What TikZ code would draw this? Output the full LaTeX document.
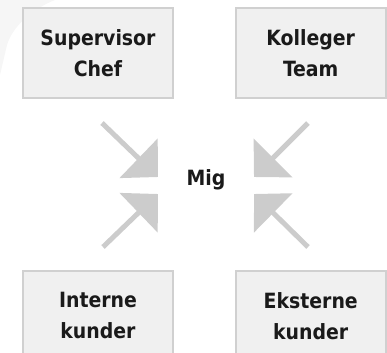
\documentclass[tikz,border=0pt]{standalone}
\usepackage{fontspec}
\setmainfont{DejaVu Sans Condensed}
\usepackage{tikz}
\usetikzlibrary{positioning, arrows.meta}
\definecolor{boxfill}{HTML}{F0F0F0}
\definecolor{boxline}{HTML}{D0D0D0}
\definecolor{arrowgray}{HTML}{CCCCCC}
\definecolor{textdark}{HTML}{1A1A1A}
\definecolor{swoosh}{HTML}{F6F6F6}
\tikzset{
    rolebox/.style={draw=boxline, fill=boxfill, line width=1.7bp,
      minimum width=150bp, minimum height=90bp, inner sep=0pt,
      align=center, text=textdark,
      font=\bfseries\fontsize{21bp}{31bp}\selectfont},
    inarrow/.style={draw=arrowgray, line width=5bp,
      -{Triangle[length=27bp, width=54bp]}},
}

\begin{document}
\begin{tikzpicture}[x=1bp, y=-1bp]
    \useasboundingbox (0,0) rectangle (387,353);
    \fill[swoosh] (0,0) -- (55,0) .. controls (30,10) and (12,28) .. (7,45) -- (0,75) -- cycle;

    \node[rolebox] (sup) at (98,53) {Supervisor\\Chef};
    \node[rolebox, right=61bp of sup] (kol) {Kolleger\\Team};
    \node[rolebox, below=171bp of sup] (int) {Interne\\kunder};
    \node[rolebox, below=171bp of kol] (eks) {Eksterne\\kunder};

    \node[text=textdark, font=\bfseries\fontsize{21bp}{31bp}\selectfont] (mig) at (206,180) {Mig};

    % arrows towards the middle
    \coordinate (t1) at (102,123);
    \coordinate (h1) at (158,177);
    \coordinate (t2) at (308,123);
    \coordinate (h2) at (254,177);
    \coordinate (t3) at (103,247);
    \coordinate (h3) at (158,194);
    \coordinate (t4) at (308,247);
    \coordinate (h4) at (254,194);
    \foreach \i in {1,...,4}
      \draw[inarrow] (t\i) -- (h\i);
\end{tikzpicture}
\end{document}
